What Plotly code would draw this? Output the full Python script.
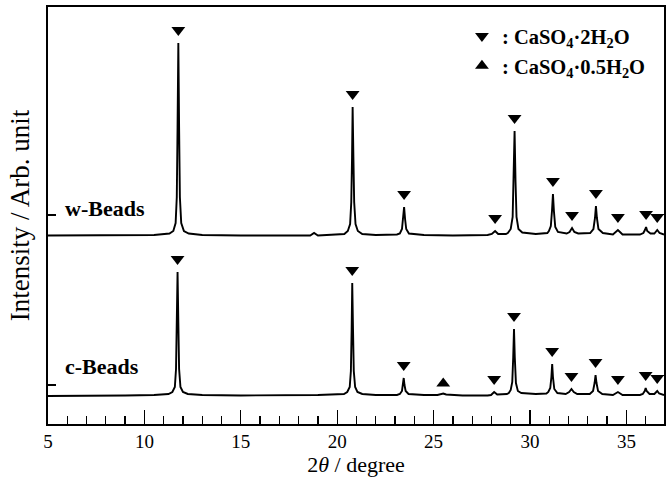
import plotly.graph_objects as go

# ---------------- data (2theta in degree, intensity in arb. unit) ----------------
c_angle = [5.0, 7.0, 9.0, 10.5, 11.25, 11.45, 11.58, 11.64, 11.68, 11.72, 11.76, 11.80, 11.87, 12.0, 12.25,
           13.0, 15.0, 17.0, 19.0, 20.35, 20.52, 20.65, 20.71, 20.75, 20.78, 20.82, 20.86, 20.93, 21.05, 21.3,
           22.0, 23.1, 23.25, 23.36, 23.41, 23.45, 23.49, 23.55, 23.7, 24.5, 25.2, 25.35, 25.5, 25.65,
           26.5, 27.8, 27.98, 28.14, 28.3, 28.8, 28.9, 29.0, 29.08, 29.13, 29.17, 29.21, 29.27, 29.37, 29.55,
           30.3, 30.85, 30.95, 31.05, 31.11, 31.15, 31.19, 31.26, 31.42, 31.85, 32.03, 32.15, 32.27, 32.45,
           33.1, 33.27, 33.35, 33.4, 33.45, 33.53, 33.75, 34.3, 34.56, 34.8, 35.7, 35.85, 35.95, 36.0, 36.05,
           36.2, 36.45, 36.6, 36.7, 36.95]
c_int = [1.0, 1.0, 1.5, 2.0, 3.0, 5.0, 10.0, 28.0, 75.0, 125.0, 75.0, 28.0, 10.0, 5.0, 3.0,
         2.0, 1.5, 1.5, 2.0, 3.0, 5.0, 10.0, 26.0, 68.0, 114.0, 68.0, 26.0, 10.0, 5.0, 3.0,
         2.0, 2.0, 3.0, 6.0, 12.0, 19.0, 12.0, 6.0, 3.0, 2.0, 2.0, 2.5, 3.5, 2.5,
         1.5, 1.5, 2.0, 5.0, 2.5, 3.0, 4.0, 7.0, 15.0, 40.0, 68.0, 40.0, 14.0, 6.0, 4.0,
         3.0, 3.5, 5.0, 9.0, 20.0, 33.0, 20.0, 8.0, 4.0, 3.0, 5.0, 8.0, 5.0, 3.0,
         3.0, 6.0, 14.0, 22.0, 14.0, 6.0, 3.0, 2.0, 5.0, 2.0, 2.0, 3.0, 6.0, 9.0, 6.0,
         3.0, 3.0, 6.0, 3.5, 2.0]

w_angle = [5.0, 8.0, 10.5, 11.3, 11.5, 11.62, 11.68, 11.72, 11.76, 11.80, 11.84, 11.91, 12.05, 12.3,
           13.0, 15.0, 17.0, 18.6, 18.8, 19.0, 20.37, 20.55, 20.67, 20.73, 20.77, 20.80, 20.84, 20.88, 20.95,
           21.07, 21.3, 22.0, 23.1, 23.25, 23.36, 23.42, 23.47, 23.52, 23.58, 23.72, 24.5, 26.0, 27.8,
           28.02, 28.19, 28.35, 28.75, 28.85, 29.0, 29.1, 29.15, 29.2, 29.25, 29.3, 29.4, 29.6,
           30.3, 30.9, 30.98, 31.08, 31.14, 31.19, 31.24, 31.31, 31.45, 31.9, 32.05, 32.18, 32.3, 32.5,
           33.12, 33.29, 33.37, 33.42, 33.47, 33.55, 33.78, 34.3, 34.56, 34.8, 35.7, 35.88, 35.96, 36.02,
           36.08, 36.25, 36.45, 36.6, 36.72, 36.95]
w_int = [1.5, 1.5, 2.0, 3.5, 6.0, 14.0, 40.0, 110.0, 194.0, 110.0, 40.0, 14.0, 6.0, 3.5,
         2.0, 1.5, 1.5, 1.5, 4.0, 1.5, 3.0, 6.0, 13.0, 35.0, 80.0, 130.0, 80.0, 35.0, 13.0,
         6.0, 3.0, 2.0, 2.5, 3.5, 8.0, 18.0, 30.0, 18.0, 8.0, 3.5, 2.0, 1.5, 2.0,
         3.0, 6.0, 3.0, 3.0, 4.0, 8.0, 20.0, 55.0, 106.0, 55.0, 20.0, 8.0, 4.5,
         3.0, 4.0, 6.0, 11.0, 26.0, 43.0, 26.0, 10.0, 5.0, 3.5, 5.0, 9.0, 5.0, 3.5,
         4.0, 8.0, 19.0, 31.0, 19.0, 8.0, 4.0, 2.5, 7.0, 2.5, 2.5, 4.0, 7.0, 10.0,
         6.0, 3.5, 3.5, 7.0, 4.0, 2.5]

# vertical offsets of the stacked patterns
c_offset = 27
w_offset = 187

# peak assignments
w_dihydrate = [11.76, 20.80, 23.47, 28.19, 29.2, 31.19, 32.18, 33.42, 34.56, 36.02, 36.6]
c_dihydrate = [11.72, 20.78, 23.45, 28.14, 29.17, 31.15, 32.15, 33.4, 34.56, 36.0, 36.6]
c_hemihydrate = [25.5]

x_ticks = [5, 10, 15, 20, 25, 30, 35]

FONT = "Liberation Serif"
GAP = 13  # marker gap above peak top


def peak_top(angles, ints, a, offset):
    best = max(i for x, i in zip(angles, ints) if abs(x - a) <= 0.06)
    return best + offset


fig = go.Figure()
fig.add_trace(go.Scatter(x=c_angle, y=[v + c_offset for v in c_int], mode="lines",
                         line=dict(color="black", width=1.9), showlegend=False, hoverinfo="skip"))
fig.add_trace(go.Scatter(x=w_angle, y=[v + w_offset for v in w_int], mode="lines",
                         line=dict(color="black", width=1.9), showlegend=False, hoverinfo="skip"))

tri_x = w_dihydrate + c_dihydrate
tri_y = [peak_top(w_angle, w_int, a, w_offset) + GAP for a in w_dihydrate] + \
        [peak_top(c_angle, c_int, a, c_offset) + GAP for a in c_dihydrate]
fig.add_trace(go.Scatter(x=tri_x, y=tri_y, mode="markers",
                         marker=dict(symbol="triangle-down", size=12, color="black"),
                         name="<b>: CaSO<sub>4</sub>·2H<sub>2</sub>O</b>", hoverinfo="skip"))
fig.add_trace(go.Scatter(x=c_hemihydrate,
                         y=[peak_top(c_angle, c_int, a, c_offset) + 10 for a in c_hemihydrate],
                         mode="markers",
                         marker=dict(symbol="triangle-up", size=12, color="black"),
                         name="<b>: CaSO<sub>4</sub>·0.5H<sub>2</sub>O</b>", hoverinfo="skip"))

fig.add_annotation(x=5.8, y=w_offset + 29, text="<b>w-Beads</b>", showarrow=False,
                   xanchor="left", yanchor="middle", font=dict(family=FONT, size=22, color="black"))
fig.add_annotation(x=5.8, y=c_offset + 31, text="<b>c-Beads</b>", showarrow=False,
                   xanchor="left", yanchor="middle", font=dict(family=FONT, size=22, color="black"))

fig.update_layout(
    width=669, height=484,
    margin=dict(l=48, r=5, t=7, b=60),
    plot_bgcolor="white", paper_bgcolor="white",
    font=dict(family=FONT, color="black", size=19),
    legend=dict(x=0.672, xanchor="left", y=0.978, yanchor="top",
                bgcolor="rgba(0,0,0,0)", font=dict(family=FONT, size=20.5, color="black"),
                itemsizing="constant", tracegroupgap=2),
    showlegend=True,
)
fig.update_xaxes(range=[5, 36.95], tickvals=x_ticks, ticks="inside", ticklen=14, tickwidth=1.3,
                 tickcolor="black", minor=dict(dtick=1, ticks="inside", ticklen=8, tickwidth=1.3,
                                               tickcolor="black"),
                 showline=True, linecolor="black", linewidth=1.6, mirror=True, showgrid=False,
                 zeroline=False, tickfont=dict(family=FONT, size=19),
                 title=dict(text="2<i>θ</i> / degree", font=dict(family=FONT, size=22), standoff=4),
                 automargin=False)
fig.update_yaxes(range=[0, 417], tickvals=[39, 209], ticks="inside", ticklen=8, tickwidth=1.3,
                 tickcolor="black", showticklabels=False,
                 showline=True, linecolor="black", linewidth=1.6, mirror=True, showgrid=False,
                 zeroline=False,
                 title=dict(text="Intensity / Arb. unit", font=dict(family=FONT, size=27), standoff=9),
                 automargin=False)

fig.write_html("out.html", config={"displayModeBar": False, "staticPlot": True},
               post_script="document.body.style.margin='0px';")
